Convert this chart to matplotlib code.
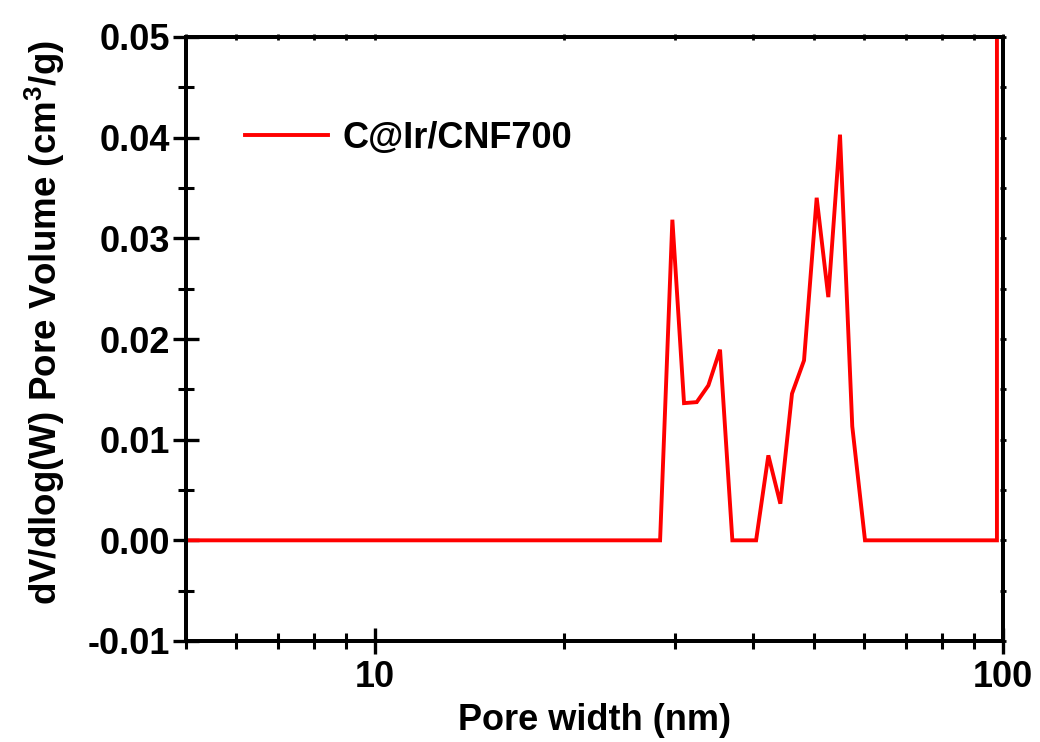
import matplotlib
matplotlib.use("Agg")
import matplotlib.pyplot as plt
from matplotlib.ticker import MultipleLocator, LogLocator, NullFormatter, FixedLocator, FixedFormatter

plt.rcParams['font.family'] = ['Liberation Sans', 'DejaVu Sans']
plt.rcParams['font.weight'] = 'bold'
plt.rcParams['mathtext.fontset'] = 'custom'
plt.rcParams['mathtext.bf'] = 'Liberation Sans:bold'
plt.rcParams['mathtext.rm'] = 'Liberation Sans:bold'
plt.rcParams['mathtext.default'] = 'bf'

# Data
pore_width = [5.0, 28.44, 29.75, 31.05, 32.53, 33.95, 35.43, 37.07, 40.44, 42.30,
              44.20, 46.13, 48.21, 50.50, 52.70, 55.01, 57.54, 60.29, 97.8, 97.8]
dv_dlogw = [0.0, 0.0, 0.03185, 0.01363, 0.01373, 0.01539, 0.01894, 0.0, 0.0, 0.00844,
            0.00364, 0.01457, 0.01787, 0.03403, 0.02416, 0.0403, 0.01132, 0.0, 0.0, 0.05]
series_label = "C@Ir/CNF700"
x_ticks = [10, 100]
x_ticklabels = ["10", "100"]
y_ticks = [-0.01, 0.00, 0.01, 0.02, 0.03, 0.04, 0.05]
y_ticklabels = ["-0.01", "0.00", "0.01", "0.02", "0.03", "0.04", "0.05"]

fig = plt.figure(figsize=(10.4, 7.42), dpi=100)
ax = fig.add_axes([186/1040, 1-641/742, (1003-186)/1040, (641-37)/742])

ax.plot(pore_width, dv_dlogw, color='#ff0000', lw=2.8, label=series_label,
        solid_joinstyle='miter', clip_on=True)

ax.set_xscale('log')
ax.set_xlim(5, 100)
ax.set_ylim(-0.01, 0.05)

ax.xaxis.set_major_locator(FixedLocator(x_ticks))
ax.xaxis.set_major_formatter(FixedFormatter(x_ticklabels))
ax.xaxis.set_minor_locator(LogLocator(base=10, subs=[2, 3, 4, 5, 6, 7, 8, 9]))
ax.xaxis.set_minor_formatter(NullFormatter())
ax.yaxis.set_major_locator(FixedLocator(y_ticks))
ax.yaxis.set_major_formatter(FixedFormatter(y_ticklabels))
ax.yaxis.set_minor_locator(MultipleLocator(0.005))

for s in ax.spines.values():
    s.set_linewidth(2.6)

ax.tick_params(axis='both', which='major', direction='inout', length=19, width=2.4)
ax.tick_params(axis='both', which='minor', direction='inout', length=11, width=2.2)
ax.tick_params(axis='x', which='major', labelsize=26, pad=4)
ax.tick_params(axis='y', which='major', labelsize=26, pad=2)

# top/right small ticks
axt = ax.twiny()
axt.set_xscale('log')
axt.set_xlim(5, 100)
axt.xaxis.set_major_locator(FixedLocator(x_ticks))
axt.xaxis.set_minor_locator(LogLocator(base=10, subs=[2, 3, 4, 5, 6, 7, 8, 9]))
axt.xaxis.set_major_formatter(NullFormatter())
axt.xaxis.set_minor_formatter(NullFormatter())
axt.tick_params(which='both', direction='inout', length=5, width=2)
axr = ax.twinx()
axr.set_ylim(-0.01, 0.05)
axr.yaxis.set_major_locator(FixedLocator(y_ticks))
axr.yaxis.set_minor_locator(MultipleLocator(0.005))
axr.yaxis.set_major_formatter(NullFormatter())
axr.tick_params(which='both', direction='inout', length=5, width=2)
for a in (axt, axr):
    for s in a.spines.values():
        s.set_linewidth(2.6)

ax.set_xlabel("Pore width (nm)", fontsize=26, fontweight='bold', labelpad=6)
ax.set_ylabel(r"dV/dlog(W) Pore Volume (cm$^{3}$/g)", fontsize=26.5, fontweight='bold')
ax.yaxis.set_label_coords((67 - 186) / 817, (641 - 323) / 604)

leg = ax.legend(loc='upper left', bbox_to_anchor=(0.055, 0.885), frameon=False,
                fontsize=26, handlelength=2.3, handletextpad=0.4, borderaxespad=0)
for t in leg.get_texts():
    t.set_fontweight('bold')

fig.savefig("out.png", dpi=100)
